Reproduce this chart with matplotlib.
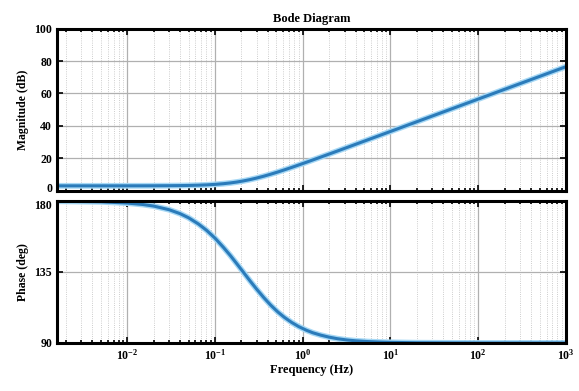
import numpy as np
import matplotlib
matplotlib.use('Agg')
import matplotlib.pyplot as plt
import matplotlib.transforms as mtransforms
from matplotlib.ticker import LogLocator, NullFormatter

# Values
freq_hz = [0.0015, 0.005, 0.01, 0.015, 0.02, 0.03, 0.04, 0.05, 0.065, 0.08,
           0.1, 0.125, 0.15, 0.18, 0.21, 0.25, 0.3, 0.36, 0.43, 0.52,
           0.62, 0.75, 0.9, 1.1, 1.3, 1.6, 2.0, 2.5, 3.2, 4.0,
           5.5, 7.5, 10.0, 20.0, 50.0, 100.0, 200.0, 500.0, 1000.0]
mag_db = [3.0, 3.0, 3.01, 3.02, 3.04, 3.09, 3.15, 3.24, 3.40, 3.59,
          3.89, 4.32, 4.79, 5.39, 6.01, 6.83, 7.83, 8.95, 10.15, 11.53,
          12.88, 14.38, 15.87, 17.54, 18.95, 20.71, 22.62, 24.54, 26.68, 28.61,
          31.37, 34.06, 36.56, 42.58, 50.54, 56.56, 62.58, 70.54, 76.56]
phase_deg = [179.9, 179.5, 178.7, 177.8, 176.8, 174.5, 172.0, 169.4, 165.4, 161.5,
             156.5, 150.6, 145.4, 139.8, 135.0, 129.5, 124.0, 118.8, 114.1, 109.7,
             106.2, 103.0, 100.4, 98.1, 96.5, 95.0, 93.7, 92.7, 91.9, 91.4,
             90.9, 90.6, 90.4, 90.15, 90.05, 90.0, 90.0, 90.0, 90.0]

mag_ticks = [0, 20, 40, 60, 80, 100]
phase_ticks = [90, 135, 180]
freq_ticks = [1e-2, 1e-1, 1e0, 1e1, 1e2, 1e3]
x_min, x_max = 10 ** -2.8, 1e3

plt.rcParams['font.family'] = ['Liberation Serif', 'DejaVu Serif']
plt.rcParams['font.weight'] = 'bold'

fig = plt.figure(figsize=(5.79, 3.91), dpi=100)
ax1 = fig.add_axes([0.0984, 0.5123, 0.8791, 0.4143])
ax2 = fig.add_axes([0.0984, 0.1228, 0.8791, 0.3631])

line_color = '#2b7bba'
for ax, vals in ((ax1, mag_db), (ax2, phase_deg)):
    ax.plot(freq_hz, vals, color='#a6d8f5', linewidth=4.2)
    ax.plot(freq_hz, vals, color=line_color, linewidth=2.2)

for ax in (ax1, ax2):
    ax.set_xscale('log')
    ax.set_xticks(freq_ticks)
    ax.set_xlim(x_min, x_max)
    ax.xaxis.set_minor_locator(LogLocator(base=10, subs=np.arange(2, 10), numticks=20))
    ax.xaxis.set_minor_formatter(NullFormatter())
    ax.grid(True, which='major', color='#b0b0b0', linewidth=0.9, linestyle='-')
    ax.grid(True, which='minor', color='#bdbdbd', linewidth=0.6, linestyle=':')
    ax.tick_params(which='both', direction='in', top=True, right=True,
                   labelsize=8.5, width=1.2)
    ax.tick_params(which='major', length=4)
    ax.tick_params(which='minor', length=2)
    for s in ax.spines.values():
        s.set_linewidth(2.2)
        s.set_color('black')

ax1.set_ylim(0, 100)
ax1.set_yticks(mag_ticks)
ax1.tick_params(labelbottom=False)
ax1.set_ylabel('Magnitude (dB)', fontsize=8.5, fontweight='bold', labelpad=4)
ax1.set_title('Bode Diagram', fontsize=9, fontweight='bold', pad=5)

ax2.set_ylim(90, 180)
ax2.set_yticks(phase_ticks)
ax2.set_ylabel('Phase (deg)', fontsize=8.5, fontweight='bold', labelpad=4)
ax2.set_xlabel('Frequency (Hz)', fontsize=9, fontweight='bold', labelpad=1)

# the "0" and "180" labels sit close together at the panel join; nudge them apart
up = mtransforms.ScaledTranslation(0, 2.5 / 72, fig.dpi_scale_trans)
down = mtransforms.ScaledTranslation(0, -2.5 / 72, fig.dpi_scale_trans)
lab0 = ax1.yaxis.get_major_ticks()[0].label1
lab0.set_transform(lab0.get_transform() + up)
lab180 = ax2.yaxis.get_major_ticks()[-1].label1
lab180.set_transform(lab180.get_transform() + down)

fig.savefig('out.png', dpi=100)
